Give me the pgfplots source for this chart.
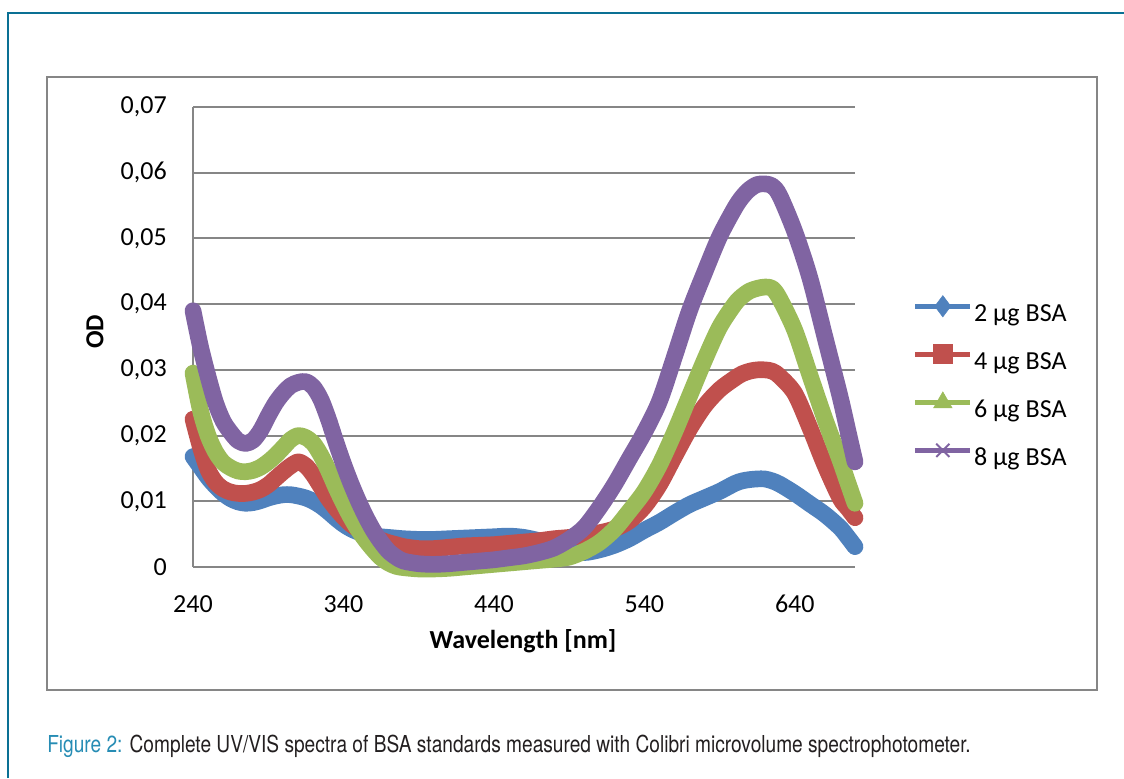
\documentclass[border=0pt]{standalone}
\usepackage{pgfplots}
\pgfplotsset{compat=1.18}
\usepackage{pgfplotstable}
\usepackage{fontspec}
\setmainfont{Carlito}
\newfontfamily\capfont[FakeStretch=0.82]{TeX Gyre Heros}

\definecolor{s1}{HTML}{4F81BD}
\definecolor{s2}{HTML}{C0504D}
\definecolor{s3}{HTML}{9BBB59}
\definecolor{s4}{HTML}{8064A2}
\definecolor{frameteal}{RGB}{10,112,148}
\definecolor{capteal}{RGB}{38,140,180}
\definecolor{capgray}{RGB}{35,31,32}
\definecolor{gridgray}{RGB}{134,134,134}

% wavelength, 2 / 4 / 6 / 8 ug BSA
\pgfplotstableread{
wl   a      b      c       d
240  0.0168 0.0225 0.0295  0.0390
245  0.0152 0.0182 0.0238  0.0335
250  0.0136 0.0148 0.0200  0.0290
255  0.0123 0.0129 0.0175  0.0250
260  0.0112 0.0119 0.0159  0.0222
265  0.0104 0.0114 0.0151  0.0205
270  0.0099 0.0112 0.0146  0.0192
275  0.0097 0.0112 0.0145  0.0188
280  0.0098 0.0114 0.0147  0.0193
285  0.0101 0.0118 0.0152  0.0208
290  0.0105 0.0125 0.0160  0.0230
295  0.0108 0.0135 0.0170  0.0250
300  0.0110 0.0145 0.0182  0.0265
305  0.0110 0.0154 0.0194  0.0276
310  0.0108 0.0160 0.0200  0.0281
315  0.0105 0.0154 0.0197  0.0282
320  0.0100 0.0140 0.0188  0.0274
325  0.0093 0.0122 0.0170  0.0255
330  0.0084 0.0104 0.0147  0.0225
335  0.0074 0.0089 0.0121  0.0190
340  0.0065 0.0076 0.0097  0.0157
345  0.0058 0.0065 0.0075  0.0127
350  0.0053 0.0057 0.0056  0.0100
355  0.0050 0.0051 0.0040  0.0076
360  0.0048 0.0046 0.0026  0.0055
365  0.0046 0.0041 0.0014  0.0038
370  0.0045 0.0037 0.0006  0.0024
375  0.0044 0.0034 0.0001  0.0015
380  0.0043 0.0031 -0.0001 0.0009
390  0.0042 0.0028 -0.0003 0.0005
400  0.0042 0.0028 -0.0003 0.0004
410  0.0043 0.0030 -0.0002 0.0005
420  0.0044 0.0032 0.0000  0.0007
430  0.0045 0.0033 0.0002  0.0009
440  0.0046 0.0034 0.0004  0.0011
450  0.0047 0.0036 0.0006  0.0014
460  0.0045 0.0038 0.0008  0.0017
470  0.0040 0.0040 0.0010  0.0022
480  0.0033 0.0043 0.0012  0.0029
490  0.0026 0.0045 0.0015  0.0042
500  0.0022 0.0048 0.0024  0.0060
510  0.0026 0.0052 0.0037  0.0090
520  0.0033 0.0058 0.0057  0.0125
530  0.0043 0.0070 0.0085  0.0165
540  0.0056 0.0092 0.0115  0.0205
550  0.0068 0.0125 0.0155  0.0252
560  0.0082 0.0168 0.0205  0.0320
570  0.0095 0.0210 0.0260  0.0390
580  0.0105 0.0245 0.0315  0.0448
590  0.0115 0.0270 0.0365  0.0503
600  0.0127 0.0287 0.0400  0.0546
605  0.0131 0.0294 0.0412  0.0563
610  0.0133 0.0298 0.0420  0.0575
615  0.0134 0.0300 0.0424  0.0582
620  0.0134 0.0300 0.0426  0.0583
625  0.0131 0.0298 0.0424  0.0580
630  0.0126 0.0290 0.0408  0.0565
640  0.0112 0.0264 0.0360  0.0510
650  0.0096 0.0212 0.0292  0.0440
660  0.0080 0.0155 0.0225  0.0350
670  0.0060 0.0105 0.0163  0.0260
675  0.0046 0.0090 0.0130  0.0210
680  0.0031 0.0075 0.0097  0.0160
}\spectra

\begin{document}
\begin{tikzpicture}[x=0.75pt,y=0.75pt]
\path[use as bounding box] (0,0) rectangle (1124,778);
% page frame and chart box
\draw[frameteal, line width=2pt] (8,0) -- (8,765) -- (1124,765);
\draw[gridgray, line width=1.5pt] (47,88) rectangle (1097,701);

\begin{axis}[
  at={(144.75pt,158.25pt)}, anchor=south west,
  scale only axis, width=496.5pt, height=345pt,
  xmin=240, xmax=680, ymin=0, ymax=0.07,
  axis x line=bottom, axis y line=left,
  axis line style={-, gridgray, line width=1.5pt},
  major tick length=0pt,
  scaled y ticks=false,
  ymajorgrids, major grid style={gridgray, line width=1.5pt},
  xtick={240,340,440,540,640},
  xticklabels={240,340,440,540,640},
  ytick={0,0.01,0.02,0.03,0.04,0.05,0.06,0.07},
  yticklabels={0,{0,01},{0,02},{0,03},{0,04},{0,05},{0,06},{0,07}},
  tick label style={font=\fontsize{19.5pt}{23pt}\selectfont},
  yticklabel style={anchor=east, inner sep=0pt, xshift=-19.5pt},
  xticklabel style={anchor=north, inner sep=0pt, yshift=-21pt},
  xlabel={\textbf{Wavelength [nm]}},
  ylabel={\textbf{OD}},
  label style={font=\fontsize{19.5pt}{23pt}\selectfont},
  xlabel style={at={(axis description cs:0.4985,-0.161)}, anchor=center},
  ylabel style={at={(axis description cs:-0.148,0.511)}, anchor=center},
  clip=false,
  legend image code/.code={
    \path[draw=none, fill=none] (0pt,-4.5pt) rectangle (41.2pt,14pt);
    \draw[mark repeat=2, mark phase=2, #1]
      plot coordinates {(0pt,6.5pt) (20.6pt,6.5pt) (41.2pt,6.5pt)};},
  legend cell align=left,
  legend style={at={(axis description cs:1.087,0.399)}, anchor=west,
    draw=none, fill=none, inner sep=0pt, row sep=12.6pt, column sep=1pt,
    font=\fontsize{19.5pt}{23pt}\selectfont,
    nodes={inner sep=0pt, text height=14pt, text depth=4.5pt}},
]
\addplot[s1, line width=12.5pt, line join=round, line cap=round, smooth, forget plot]
  table[x=wl, y=a] {\spectra};
\addplot[s2, line width=12.5pt, line join=round, line cap=round, smooth, forget plot]
  table[x=wl, y=b] {\spectra};
\addplot[s3, line width=12.5pt, line join=round, line cap=round, smooth, forget plot]
  table[x=wl, y=c] {\spectra};
\addplot[s4, line width=12.5pt, line join=round, line cap=round, smooth, forget plot]
  table[x=wl, y=d] {\spectra};

\addlegendimage{s1, line width=3.75pt, mark=diamond*, mark size=8pt, mark options={solid, line width=0.4pt}}
\addlegendentry{2 µg BSA}
\addlegendimage{s2, line width=3.75pt, mark=square*, mark size=7pt, mark options={solid, line width=0.4pt}}
\addlegendentry{4 µg BSA}
\addlegendimage{s3, line width=3.75pt, mark=triangle*, mark size=8pt, mark options={solid, line width=0.4pt}}
\addlegendentry{6 µg BSA}
\addlegendimage{s4, line width=3.75pt, mark=x, mark size=7pt, mark options={solid, line width=1.5pt}}
\addlegendentry{8 µg BSA}
\end{axis}

\node[anchor=base west, inner sep=0pt] at (47,26)
  {\capfont\fontsize{17.5pt}{21pt}\selectfont\textcolor{capteal}{Figure 2:}
   \textcolor{capgray}{Complete UV/VIS spectra of BSA standards measured with Colibri microvolume spectrophotometer.}};
\end{tikzpicture}
\end{document}
